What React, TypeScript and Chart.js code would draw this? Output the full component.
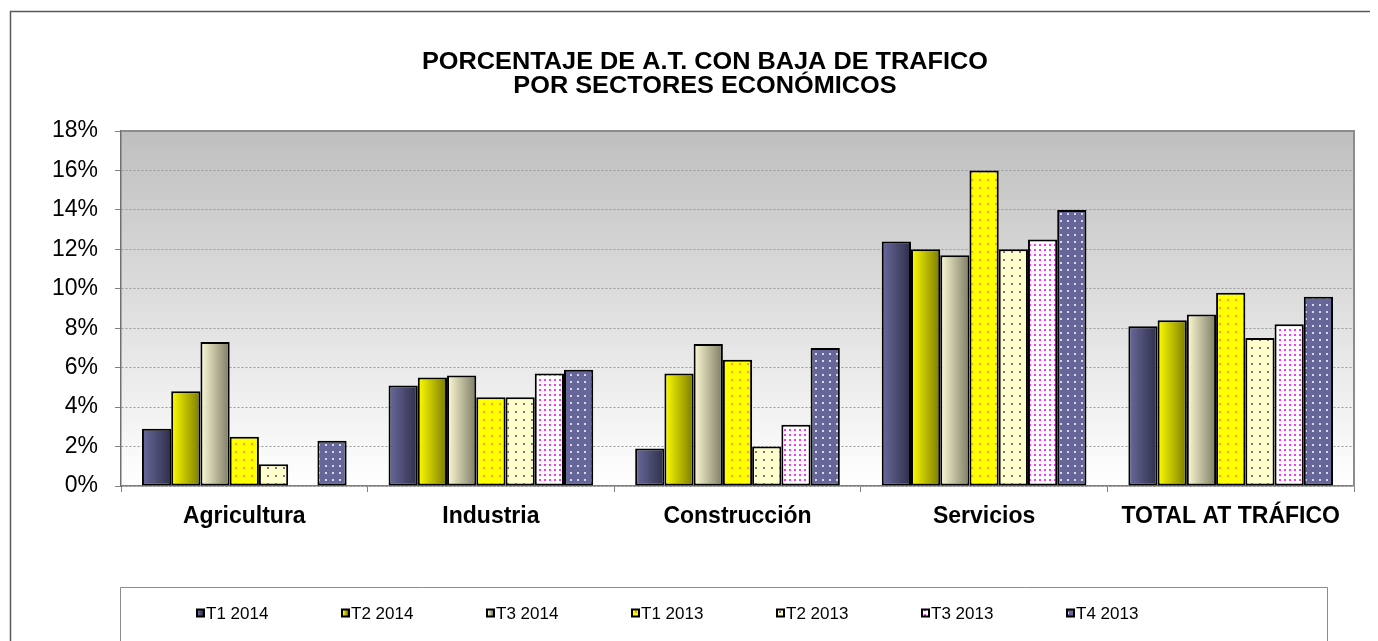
import React, { useEffect, useRef } from "react";
import { Chart, registerables } from "chart.js";

Chart.register(...registerables);

// ---------- DATA ----------
const categories = ["Agricultura", "Industria", "Construcción", "Servicios", "TOTAL AT TRÁFICO"];
const seriesLabels = ["T1 2014", "T2 2014", "T3 2014", "T1 2013", "T2 2013", "T3 2013", "T4 2013"];
const t1_2014 = [2.9, 5.1, 1.9, 12.4, 8.1];
const t2_2014 = [4.8, 5.5, 5.7, 12.0, 8.4];
const t3_2014 = [7.3, 5.6, 7.2, 11.7, 8.7];
const t1_2013 = [2.5, 4.5, 6.4, 16.0, 9.8];
const t2_2013 = [1.1, 4.5, 2.0, 12.0, 7.5];
const t3_2013 = [null, 5.7, 3.1, 12.5, 8.2];
const t4_2013 = [2.3, 5.9, 7.0, 14.0, 9.6];
const yMax = 18;
const yStep = 2;
const titleLines = ["PORCENTAJE DE A.T. CON BAJA DE TRAFICO", "POR SECTORES ECONÓMICOS"];

// ---------- STYLE ----------
const W = 1362;
const H = 633;
const FONT = "Arial, 'Liberation Sans', sans-serif";

type FillSpec =
  | { kind: "grad"; from: string; to: string }
  | { kind: "dots"; bg: string; dot: string; tile: number; size: number };

const fills: FillSpec[] = [
  { kind: "grad", from: "#6a6a9e", to: "#2e2e48" },
  { kind: "grad", from: "#ffff00", to: "#7a7a00" },
  { kind: "grad", from: "#fffbd6", to: "#7c7c64" },
  { kind: "dots", bg: "#ffff00", dot: "#ff9933", tile: 8, size: 2 },
  { kind: "dots", bg: "#ffffcc", dot: "#996677", tile: 8, size: 2 },
  { kind: "dots", bg: "#ffffff", dot: "#ff33ff", tile: 5, size: 2 },
  { kind: "dots", bg: "#666699", dot: "#d8d8ee", tile: 7, size: 2 },
];

function makePattern(spec: { bg: string; dot: string; tile: number; size: number }): CanvasPattern | string {
  const c = document.createElement("canvas");
  c.width = spec.tile;
  c.height = spec.tile;
  const x = c.getContext("2d")!;
  x.fillStyle = spec.bg;
  x.fillRect(0, 0, spec.tile, spec.tile);
  x.fillStyle = spec.dot;
  const o = Math.floor((spec.tile - spec.size) / 2);
  x.fillRect(o, o, spec.size, spec.size);
  const p = x.createPattern(c, "repeat");
  return p || spec.bg;
}

export default function App() {
  const ref = useRef<HTMLCanvasElement>(null);

  useEffect(() => {
    document.documentElement.style.overflow = "hidden";
    document.body.style.overflow = "hidden";
    const canvas = ref.current!;

    const seriesData = [t1_2014, t2_2014, t3_2014, t1_2013, t2_2013, t3_2013, t4_2013];
    const bgs = fills.map((f) => (f.kind === "dots" ? makePattern(f) : f.from));

    const datasets = seriesData.map((d, i) => ({
      label: seriesLabels[i],
      data: d,
      backgroundColor: bgs[i] as any,
      borderColor: "#000000",
      borderWidth: 2,
      borderSkipped: false as any,
      categoryPercentage: 0.83,
      barPercentage: 1.0,
    }));

    const decorPlugin = {
      id: "decor",
      beforeDraw(chart: any) {
        const { ctx, chartArea: a } = chart;
        ctx.save();
        const g = ctx.createLinearGradient(0, a.top, 0, a.bottom);
        g.addColorStop(0, "#bfbfbf");
        g.addColorStop(1, "#ffffff");
        ctx.fillStyle = g;
        ctx.fillRect(a.left, a.top, a.right - a.left, a.bottom - a.top);
        ctx.restore();
      },
      beforeDatasetsDraw(chart: any) {
        const ctx = chart.ctx;
        chart.data.datasets.forEach((ds: any, di: number) => {
          const f = fills[di];
          if (f.kind !== "grad") return;
          const meta = chart.getDatasetMeta(di);
          meta.data.forEach((el: any) => {
            if (!el) return;
            const { x, width } = el.getProps(["x", "width"], true);
            if (!isFinite(x) || !isFinite(width)) return;
            const g = ctx.createLinearGradient(x - width / 2, 0, x + width / 2, 0);
            g.addColorStop(0, f.from);
            g.addColorStop(1, f.to);
            el.options = Object.assign({}, el.options, { backgroundColor: g });
          });
        });
      },
      afterDraw(chart: any) {
        const { ctx, chartArea: a } = chart;
        ctx.save();
        // plot frame top & right
        ctx.strokeStyle = "#8c8c8c";
        ctx.lineWidth = 2;
        ctx.beginPath();
        ctx.moveTo(a.left, a.top);
        ctx.lineTo(a.right, a.top);
        ctx.lineTo(a.right, a.bottom);
        ctx.stroke();

        // outer chart frame
        ctx.strokeStyle = "#5a5a5a";
        ctx.lineWidth = 1.5;
        ctx.beginPath();
        ctx.moveTo(2.5, H);
        ctx.lineTo(2.5, 3.5);
        ctx.lineTo(W, 3.5);
        ctx.stroke();

        // title (slightly widened like the original)
        ctx.fillStyle = "#000000";
        ctx.font = `bold 23px ${FONT}`;
        ctx.textAlign = "center";
        ctx.textBaseline = "middle";
        titleLines.forEach((t, i) => {
          ctx.save();
          ctx.translate(697, 55 + i * 23.5);
          ctx.scale(1.1, 1);
          ctx.fillText(t, 0, 0);
          ctx.restore();
        });

        // legend box
        ctx.strokeStyle = "#8c8c8c";
        ctx.lineWidth = 1;
        ctx.beginPath();
        ctx.moveTo(112.5, H);
        ctx.lineTo(112.5, 579.5);
        ctx.lineTo(1319.5, 579.5);
        ctx.lineTo(1319.5, H);
        ctx.stroke();

        // legend items
        ctx.font = `17px ${FONT}`;
        ctx.textAlign = "left";
        ctx.textBaseline = "middle";
        const ly = 605;
        chart.data.datasets.forEach((ds: any, i: number) => {
          const bx = 188 + 145 * i;
          const bs = 9;
          const f = fills[i];
          ctx.fillStyle = "#000000";
          ctx.fillRect(bx, ly - bs / 2, bs, bs);
          let fill: any;
          if (f.kind === "grad") {
            const g = ctx.createLinearGradient(bx + 2, 0, bx + bs - 2, 0);
            g.addColorStop(0, f.from);
            g.addColorStop(1, f.to);
            fill = g;
          } else {
            fill = bgs[i];
          }
          ctx.fillStyle = fill;
          ctx.fillRect(bx + 2, ly - bs / 2 + 2, bs - 4, bs - 4);
          ctx.fillStyle = "#000000";
          ctx.fillText(ds.label, bx + bs + 1, ly + 1);
        });
        ctx.restore();
      },
    };

    const chart = new Chart(canvas, {
      type: "bar",
      data: { labels: categories, datasets: datasets as any },
      options: {
        responsive: false,
        animation: false,
        devicePixelRatio: 1,
        layout: { padding: { top: 123, right: 16, bottom: 105, left: 0 } },
        plugins: {
          legend: { display: false },
          title: { display: false },
          tooltip: { enabled: false },
        },
        scales: {
          x: {
            offset: true,
            grid: {
              display: true,
              offset: true,
              drawOnChartArea: false,
              drawTicks: true,
              tickLength: 6,
              tickColor: "#808080",
              color: "#808080",
            },
            border: { display: true, color: "#808080", width: 1.5 },
            ticks: {
              color: "#000000",
              font: { family: FONT, size: 23, weight: "bold" },
              padding: 11,
              maxRotation: 0,
              autoSkip: false,
            },
            afterFit: (s: any) => {
              s.height = 50;
            },
          },
          y: {
            min: 0,
            max: yMax,
            ticks: {
              stepSize: yStep,
              color: "#000000",
              font: { family: FONT, size: 23 },
              padding: 17,
              callback: (v: any) => `${v}%`,
            },
            grid: {
              color: "#9a9a9a",
              lineWidth: 1,
              drawTicks: true,
              tickLength: 6,
              tickColor: "#808080",
            },
            border: { display: true, color: "#707070", width: 1.5, dash: [2, 2] },
            afterFit: (s: any) => {
              s.width = 113;
            },
          },
        },
      },
      plugins: [decorPlugin],
    } as any);

    return () => chart.destroy();
  }, []);

  return (
    <div style={{ width: W, height: H, overflow: "hidden" }}>
      <canvas ref={ref} width={W} height={H} style={{ display: "block" }} />
    </div>
  );
}
